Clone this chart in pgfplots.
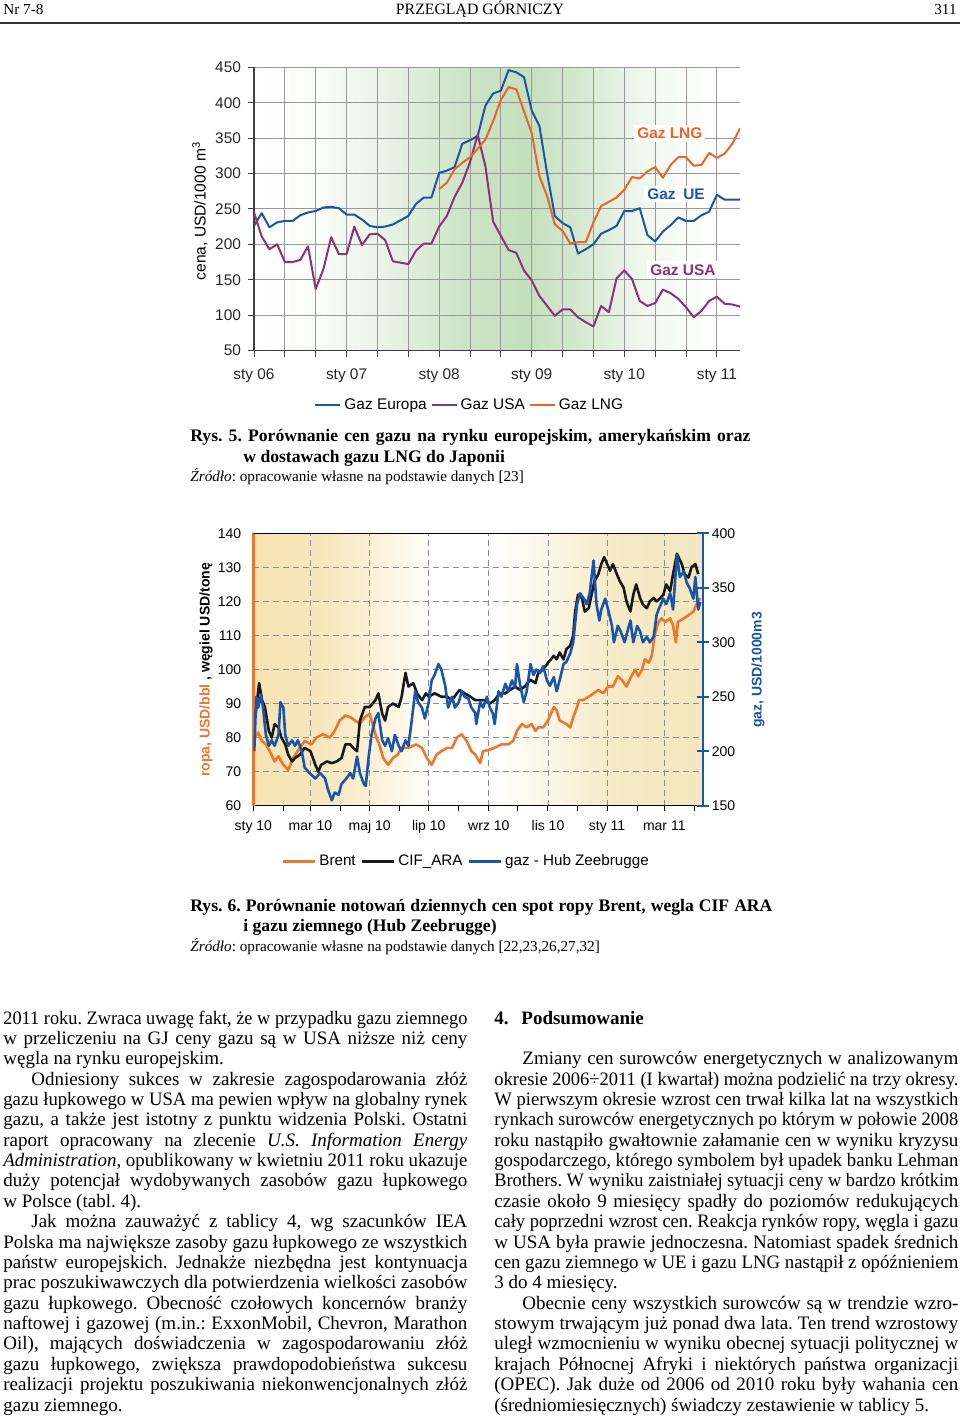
\documentclass[border=0pt]{standalone}
\usepackage{fontspec}
\setmainfont{Liberation Serif}
\setsansfont{Liberation Sans}
\usepackage{graphicx}
\usepackage{pgfplots}
\pgfplotsset{compat=1.18}
\usepackage{pgfplotstable}
\frenchspacing

\definecolor{blueE}{RGB}{30,85,160}
\definecolor{purpleU}{RGB}{140,50,120}
\definecolor{orangeL}{RGB}{235,100,40}
\definecolor{orangeB}{RGB}{235,120,45}
\definecolor{blueG}{RGB}{25,85,170}
\definecolor{blackC}{RGB}{25,25,25}
\definecolor{gA}{RGB}{196,224,190}
\colorlet{gA10}{gA!10!white}
\colorlet{gA25}{gA!25!white}
\colorlet{gA45}{gA!45!white}
\colorlet{gA75}{gA!75!white}
\colorlet{gA90}{gA!90!white}
\definecolor{tA}{RGB}{246,227,178}
\definecolor{tB}{RGB}{244,231,190}
\colorlet{tA85}{tA!85!white}
\colorlet{tA40}{tA!40!white}
\colorlet{tB85}{tB!85!white}
\colorlet{tB40}{tB!40!white}

\pgfdeclarehorizontalshading{greenbg}{100bp}{color(0bp)=(white); color(25bp)=(white); color(32bp)=(gA10); color(40bp)=(gA45); color(47bp)=(gA90); color(53bp)=(gA); color(58bp)=(gA75); color(65bp)=(gA25); color(72bp)=(white); color(100bp)=(white)}
\pgfdeclarehorizontalshading{tanbg}{100bp}{color(0bp)=(tA); color(25bp)=(tA); color(33bp)=(tA85); color(40bp)=(tA40); color(45bp)=(white); color(52bp)=(white); color(58bp)=(tB40); color(65bp)=(tB85); color(75bp)=(tB); color(100bp)=(tB)}

\newlength\cw
\newlength\ind \setlength\ind{14pt}
\newbox\lb
\newcommand\J[1]{\setbox\lb=\hbox{#1}\ifdim\wd\lb>\cw
  \pgfmathsetmacro\sc{\the\cw/\the\wd\lb}\hbox to\cw{\scalebox{\sc}[1]{\box\lb}\hss}\else\hbox to\cw{#1}\fi}
\newcommand\bodysetup{\fontsize{9.5}{10.185}\selectfont\frenchspacing\baselineskip=10.185pt\lineskiplimit=-20pt\lineskip=0pt\relax\cw=232pt\relax}
\newcommand\capfont{\fontsize{8.8}{10}\selectfont\bfseries\frenchspacing}
\newcommand\srcfont{\fontsize{7.6}{9}\selectfont}

% ---------- data chart 1 (monthly, 0 = Jan 2006) ----------
\pgfplotstableread{
m v
0 226
1 244
2 224
3 231
4 233
5 233
6 241
7 245
8 247
9 252
10 253
11 251
12 242
13 242
14 235
15 226
16 224
17 225
18 228
19 234
20 240
21 257
22 266
23 266
24 301
25 304
26 309
27 342
28 347
29 353
30 396
31 413
32 417
33 446
34 443
35 436
36 389
37 367
38 300
39 240
40 230
41 224
42 187
43 193
44 200
45 215
46 220
47 226
48 247
49 247
50 251
51 213
52 204
53 218
54 227
55 238
56 233
57 233
58 241
59 246
60 270
61 263
62 263
63 263
}\europa
\pgfplotstableread{
m v
0 245
1 211
2 193
3 200
4 175
5 175
6 178
7 197
8 137
9 165
10 210
11 186
12 186
13 225
14 199
15 214
16 215
17 206
18 176
19 174
20 172
21 191
22 201
23 201
24 225
25 240
26 267
27 287
28 316
29 355
30 310
31 232
32 212
33 192
34 188
35 163
36 149
37 127
38 113
39 99
40 108
41 108
42 97
43 90
44 84
45 113
46 104
47 152
48 163
49 151
50 120
51 113
52 117
53 136
54 131
55 123
56 111
57 97
58 106
59 120
60 126
61 116
62 115
63 112
}\usa
\pgfplotstableread{
m v
24 278
25 287
26 306
27 315
28 323
29 335
30 348
31 374
32 404
33 422
34 419
35 388
36 357
37 296
38 268
39 228
40 219
41 201
42 203
43 203
44 231
45 254
46 260
47 266
48 277
49 295
50 293
51 303
52 309
53 294
54 312
55 323
56 323
57 311
58 312
59 329
60 322
61 328
62 342
63 364
}\lng

% ---------- data chart 2 (days, 0 = 1 Jan 2010) ----------
\pgfplotstableread{
d v
1 80
5 81.5
9 79
13 78
17 76
22 73
26 74.5
31 72
36 70.5
41 74
48 77
53 79
60 78
65 80
72 81
79 80
84 82
89 85
95 86.5
100 86
105 85
110 84
115 86
120 87
124 83
127 80
130 78
134 74
139 72
144 74
149 75
153 77
160 77
168 78
174 77
179 74
184 72
189 75
194 76
200 77
205 77
210 80
215 81
220 79
225 76
229 75
234 72.5
237 76
244 76.5
249 77
256 78
263 78
268 79
272 82
277 84
282 83
287 84
291 82
294 83
299 83
304 85
310 89
313 88
316 85
323 84
327 83
330 86
334 89
336 91
340 91
346 92
351 93
356 94
361 93
366 95
371 95
376 98
380 97
385 95
390 98
394 100
397 98
401 100
404 103
408 102
411 104
414 110
418 114
421 115
425 114
430 115
433 113
436 108
438 114
444 115
449 116
454 117
457 119
461 121
}\brent
\pgfplotstableread{
d v
2 86
6 96
9 91
12 89
16 82
19 80
22 84
26 83
29 80
33 78
36 75
40 73
43 74
48 75
53 77
59 76
64 72
67 70
70 72
76 73
81 72.5
86 73
91 74
95 78
100 78
103 77
107 76
110 85
115 89
120 89
126 91
129 93
133 87
136 85
139 89
144 90
150 89
153 92
157 99
160 95
165 96
169 93
174 91
178 93
181 92
187 93
194 92
200 92
205 91
210 93
213 94
218 93
224 92
229 91
234 91
239 91
244 90
249 91
254 93
260 93
265 94
270 95
275 94
280 95
286 97
291 96
294 99
299 100
304 102
310 104
313 103
316 105
320 103
323 106
327 107
330 110
332 117
335 122
339 121
342 117
346 118
349 122
352 126
356 128
359 131
362 133
365 131
368 129
371 131
375 128
378 126
382 124
385 120
389 117
392 122
395 125
399 121
402 119
406 118
409 120
413 121
416 120
420 121
423 122
426 125
430 123
433 128
437 134
442 131
445 128
449 127
452 130
456 131
459 128
}\cifara
\pgfplotstableread{
d v
1 200
3 250
5 240
8 252
10 240
13 215
16 205
19 210
22 205
26 215
28 245
31 240
33 215
36 205
40 210
43 205
46 210
50 200
53 185
58 180
64 175
69 180
74 175
77 165
81 155
84 162
88 160
91 170
96 175
100 180
103 175
107 195
110 180
114 170
116 168
119 195
122 215
126 230
129 235
133 210
136 205
139 212
143 200
146 215
150 205
153 200
157 210
160 205
163 225
167 255
170 245
174 240
177 230
181 245
184 265
187 270
191 280
194 275
198 260
201 240
205 250
208 240
212 245
215 255
218 250
222 248
225 240
229 235
230 225
234 245
237 240
241 250
244 240
247 235
249 225
253 255
256 250
260 262
263 255
267 265
270 258
272 280
275 262
279 245
282 255
286 280
289 270
292 275
296 272
299 278
303 265
306 260
310 268
313 255
316 265
320 280
323 282
327 290
330 300
334 335
337 345
341 340
344 335
347 345
351 375
354 335
357 320
359 330
363 340
366 330
370 315
372 300
376 315
379 310
383 300
386 310
389 320
392 300
396 315
399 310
402 300
406 305
409 300
413 305
416 325
418 330
423 340
426 335
430 345
433 330
437 380
440 360
444 365
447 355
450 350
454 340
456 360
459 330
461 337
}\gas

\begin{document}
\begin{tikzpicture}
\path[use as bounding box, fill=white] (0pt,0pt) rectangle (480pt,-709pt);

% ================= Chart 1 =================
\begin{axis}[
  at={(127pt,-175.25pt)}, anchor=south west,
  scale only axis, width=243pt, height=141.6pt,
  xmin=0, xmax=63, ymin=50, ymax=450,
  axis x line*=bottom, axis y line*=left,
  axis line style={draw=black!75, line width=0.6pt},
  xtick={0,12,24,36,48,60},
  xticklabels={sty 06,sty 07,sty 08,sty 09,sty 10,sty 11},
  minor xtick={4,8,16,20,28,32,40,44,52,56},
  ytick={50,100,...,450},
  grid=both,
  major grid style={black!40, line width=0.5pt},
  minor grid style={black!40, line width=0.5pt},
  tick align=outside, major tick length=3pt, minor tick length=3pt,
  tick style={black!75, line width=0.5pt},
  tick label style={font=\sffamily\fontsize{7.7}{9}\selectfont, text=black!85},
  xticklabel style={yshift=-2.5pt},
  /pgf/number format/assume math mode=true,
  axis background/.style={shade, shading=greenbg},
  every axis plot/.append style={line join=round, line width=1pt},
  legend style={at={(0.445,-0.193)}, anchor=center, draw=none, fill=none,
    font=\sffamily\fontsize{7.7}{9}\selectfont,
    nodes={inner sep=1.5pt},
    /tikz/every even column/.append style={column sep=0.5pt}},
  legend columns=-1,
  legend image code/.code={\draw[#1] (0pt,0pt) -- (12.5pt,0pt);},
]
\addplot[blueE] table[x=m,y=v]{\europa};
\addlegendentry{Gaz Europa}
\addplot[purpleU] table[x=m,y=v]{\usa};
\addlegendentry{Gaz USA}
\addplot[orangeL] table[x=m,y=v]{\lng};
\addlegendentry{Gaz LNG}
\node[fill=white, inner sep=1.5pt, text=orangeL, font=\sffamily\bfseries\fontsize{7.7}{9}\selectfont] at (axis cs:53.9,357) {Gaz LNG};
\node[fill=white, inner sep=1.5pt, text=blueE, font=\sffamily\bfseries\fontsize{7.7}{9}\selectfont] at (axis cs:54.7,271) {Gaz\hspace{0.5em}UE};
\node[fill=white, inner sep=1.5pt, text=purpleU, font=\sffamily\bfseries\fontsize{7.7}{9}\selectfont] at (axis cs:55.6,164) {Gaz USA};
\end{axis}

% ================= Chart 2 =================
\begin{axis}[
  at={(126.65pt,-402.85pt)}, anchor=south west,
  scale only axis, width=224.7pt, height=136.2pt,
  xmin=0, xmax=463.6, ymin=60, ymax=140,
  axis x line*=bottom, axis y line*=left,
  x axis line style={black, line width=0.6pt},
  y axis line style={orangeB, line width=1.2pt},
  xtick={0,59,120,181,243,304,365,424},
  xticklabels={sty 10,mar 10,maj 10,lip 10,wrz 10,lis 10,sty 11,mar 11},
  minor xtick={31,90,151,212,273,334,396,455},
  ytick={60,70,...,140},
  xmajorgrids, ymajorgrids,
  major grid style={black!45, dash pattern=on 3pt off 2pt, line width=0.4pt},
  tick align=outside, major tick length=2.5pt, minor tick length=2.5pt,
  xtick style={black, line width=0.5pt}, ytick style={draw=none},
  tick label style={font=\sffamily\fontsize{7}{8}\selectfont},
  xticklabel style={yshift=-1.5pt},
  /pgf/number format/assume math mode=true,
  axis background/.style={shade, shading=tanbg},
  every axis plot/.append style={line join=round, line width=1.3pt},
  legend style={at={(0.475,-0.205)}, anchor=center, draw=none, fill=none,
    font=\sffamily\fontsize{7.6}{9}\selectfont,
    nodes={inner sep=1.5pt},
    /tikz/every even column/.append style={column sep=1pt}},
  legend columns=-1,
  legend image code/.code={\draw[#1] (0pt,0pt) -- (16pt,0pt);},
]
\draw[black, line width=0.6pt] (rel axis cs:0,1) -- (rel axis cs:1,1);
\addplot[orangeB] table[x=d,y=v]{\brent};
\addlegendentry{Brent}
\addplot[blackC] table[x=d,y=v]{\cifara};
\addlegendentry{CIF\_ARA}
\addlegendimage{blueG, line width=1.3pt}
\addlegendentry{gaz - Hub Zeebrugge}
\end{axis}
\begin{axis}[
  at={(126.65pt,-402.85pt)}, anchor=south west,
  scale only axis, width=224.7pt, height=136.2pt,
  xmin=0, xmax=463.6, ymin=150, ymax=400,
  axis x line=none, axis y line*=right,
  y axis line style={blueG, line width=1.2pt},
  ytick={150,200,...,400},
  tick align=center, major tick length=6pt,
  ytick style={blueG, line width=1pt},
  tick label style={font=\sffamily\fontsize{7}{8}\selectfont},
  yticklabel style={xshift=-2pt},
  /pgf/number format/assume math mode=true,
  every axis plot/.append style={line join=round, line width=1.3pt},
]
\addplot[blueG] table[x=d,y=v]{\gas};
\end{axis}

% ================= Text =================
\begin{scope}[x=0.5pt,y=-0.5pt]
% header
\node[anchor=base west, inner sep=0, font=\fontsize{7.6}{9}\selectfont] at (3,15) {Nr 7-8};
\node[anchor=base, inner sep=0, font=\fontsize{7.9}{9}\selectfont] at (480,15) {PRZEGLĄD GÓRNICZY};
\node[anchor=base east, inner sep=0, font=\fontsize{7.6}{9}\selectfont] at (957,15) {311};
\draw[line width=0.6pt, black!80] (0,23) -- (960,23);

% chart 1 y label
\node[rotate=90, font=\sffamily\fontsize{7.8}{9}\selectfont] at (200,211) {cena, USD/1000 m\textsuperscript{3}};

% caption 1
\node[anchor=base west, inner sep=0] at (190,441) {\capfont\cw=280pt\relax\J{Rys. 5. Porównanie cen gazu na rynku europejskim, amerykańskim oraz}};
\node[anchor=base west, inner sep=0] at (243,462) {\capfont w dostawach gazu LNG do Japonii};
\node[anchor=base west, inner sep=0] at (190,481) {\srcfont\textit{Źródło}: opracowanie własne na podstawie danych [23]};

% chart 2 y labels
\node[rotate=90, font=\sffamily\bfseries\fontsize{7}{8}\selectfont] at (206,670) {\textcolor{orangeB}{ropa, USD/bbl} , węgiel USD/tonę};
\node[rotate=90, font=\sffamily\bfseries\fontsize{7}{8}\selectfont, text=blueG] at (758,670) {gaz, USD/1000m3};

% caption 2
\node[anchor=base west, inner sep=0] at (190,911) {\capfont\cw=291pt\relax\J{Rys. 6. Porównanie notowań dziennych cen spot ropy Brent, wegla CIF ARA}};
\node[anchor=base west, inner sep=0] at (243,931) {\capfont i gazu ziemnego (Hub Zeebrugge)};
\node[anchor=base west, inner sep=0] at (190,951) {\srcfont\textit{Źródło}: opracowanie własne na podstawie danych [22,23,26,27,32]};

% left column
\node[anchor=base west, inner sep=0] at (3,1024) {\vtop{\bodysetup
\J{2011 roku. Zwraca uwagę fakt, że w przypadku gazu ziemnego}
\J{w przeliczeniu na GJ ceny gazu są w USA niższe niż ceny}
\hbox{węgla na rynku europejskim.}
\J{\hspace*{\ind}Odniesiony sukces w zakresie zagospodarowania złóż}
\J{gazu łupkowego w USA ma pewien wpływ na globalny rynek}
\J{gazu, a także jest istotny z punktu widzenia Polski. Ostatni}
\J{raport opracowany na zlecenie \textit{U.S. Information Energy}}
\J{\textit{Administration}, opublikowany w kwietniu 2011 roku ukazuje}
\J{duży potencjał wydobywanych zasobów gazu łupkowego}
\hbox{w Polsce (tabl. 4).}
\J{\hspace*{\ind}Jak można zauważyć z tablicy 4, wg szacunków IEA}
\J{Polska ma największe zasoby gazu łupkowego ze wszystkich}
\J{państw europejskich. Jednakże niezbędna jest kontynuacja}
\J{prac poszukiwawczych dla potwierdzenia wielkości zasobów}
\J{gazu łupkowego. Obecność czołowych koncernów branży}
\J{naftowej i gazowej (m.in.: ExxonMobil, Chevron, Marathon}
\J{Oil), mających doświadczenia w zagospodarowaniu złóż}
\J{gazu łupkowego, zwiększa prawdopodobieństwa sukcesu}
\J{realizacji projektu poszukiwania niekonwencjonalnych złóż}
\hbox{gazu ziemnego.}
}};

% right column
\node[anchor=base west, inner sep=0] at (494,1024) {\vtop{\bodysetup
\hbox{\bfseries\makebox[13.5pt][l]{4.}Podsumowanie}
\hbox{}
\J{\hspace*{\ind}Zmiany cen surowców energetycznych w analizowanym}
\J{okresie 2006÷2011 (I kwartał) można podzielić na trzy okresy.}
\J{W pierwszym okresie wzrost cen trwał kilka lat na wszystkich}
\J{rynkach surowców energetycznych po którym w połowie 2008}
\J{roku nastąpiło gwałtownie załamanie cen w wyniku kryzysu}
\J{gospodarczego, którego symbolem był upadek banku Lehman}
\J{Brothers. W wyniku zaistniałej sytuacji ceny w bardzo krótkim}
\J{czasie około 9 miesięcy spadły do poziomów redukujących}
\J{cały poprzedni wzrost cen. Reakcja rynków ropy, węgla i gazu}
\J{w USA była prawie jednoczesna. Natomiast spadek średnich}
\J{cen gazu ziemnego w UE i gazu LNG nastąpił z opóźnieniem}
\hbox{3 do 4 miesięcy.}
\J{\hspace*{\ind}Obecnie ceny wszystkich surowców są w trendzie wzro-}
\J{stowym trwającym już ponad dwa lata. Ten trend wzrostowy}
\J{uległ wzmocnieniu w wyniku obecnej sytuacji politycznej w}
\J{krajach Północnej Afryki i niektórych państwa organizacji}
\J{(OPEC). Jak duże od 2006 od 2010 roku były wahania cen}
\hbox{(średniomiesięcznych) świadczy zestawienie w tablicy 5.}
}};
\end{scope}
\end{tikzpicture}
\end{document}
